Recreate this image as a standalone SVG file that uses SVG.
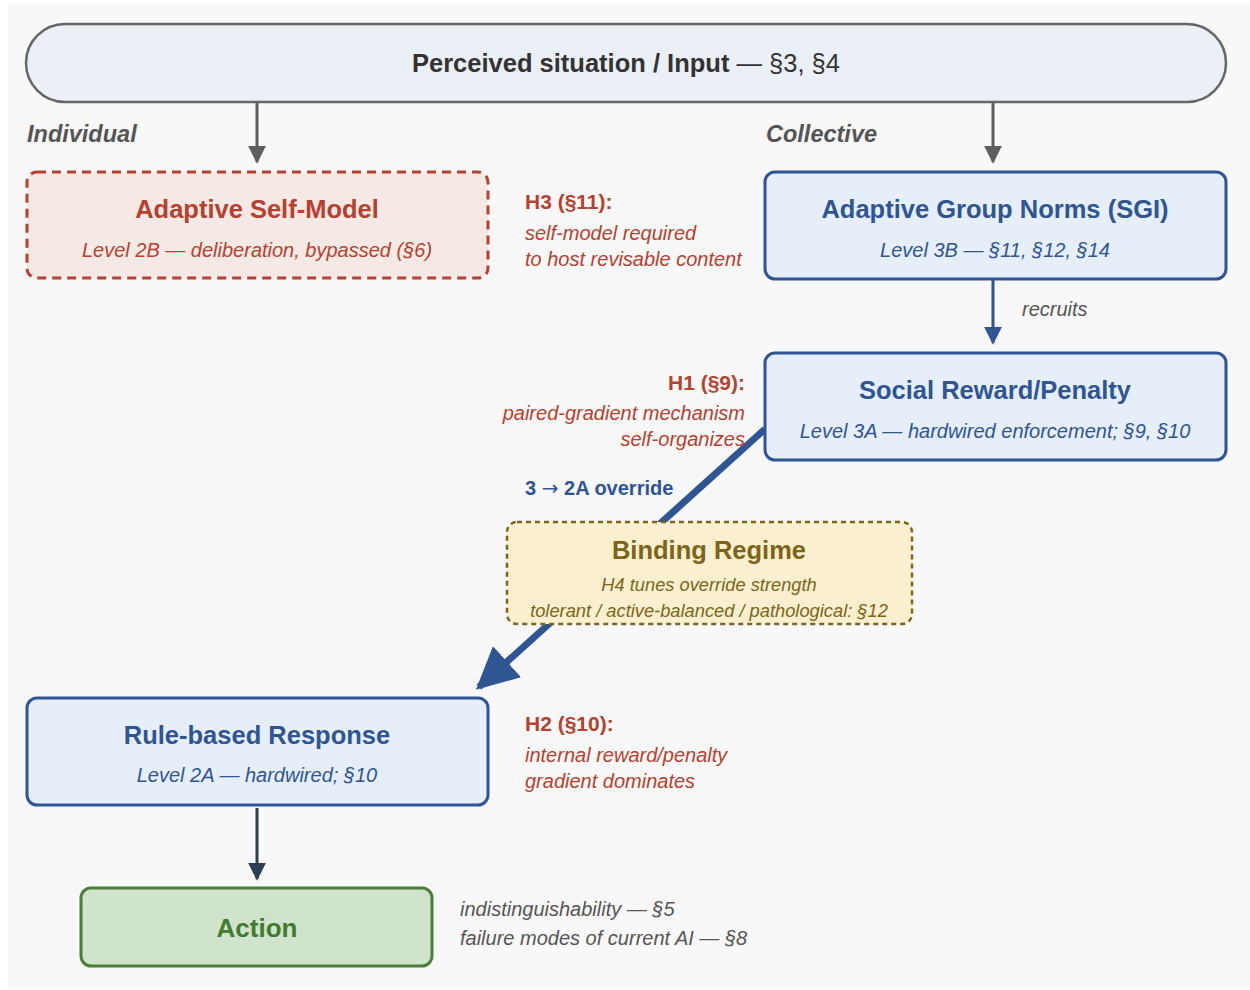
<svg xmlns="http://www.w3.org/2000/svg" width="1250" height="990" viewBox="0 0 1250 990">
  <defs>
    <style>
      text { font-family: "Liberation Sans", Arial, sans-serif; }
      .title { font-size: 25.5px; font-weight: bold; text-anchor: middle; }
      .sub { font-size: 20px; font-style: italic; text-anchor: middle; }
      .note-h { font-size: 21px; font-weight: bold; fill: #b5412f; }
      .note { font-size: 20px; font-style: italic; fill: #b5412f; }
      .gray-note { font-size: 20px; font-style: italic; fill: #555; }
      .branch { font-size: 23.5px; font-weight: bold; font-style: italic; fill: #555; }
      .blue-box { fill: #e5eef9; stroke: #2f5593; stroke-width: 3; }
      .blue-t { fill: #2f5593; }
    </style>
    <marker id="head-gray" viewBox="0 0 10 10" refX="9" refY="5" markerWidth="6" markerHeight="6" markerUnits="strokeWidth" orient="auto">
      <path d="M0,0 L10,5 L0,10 z" fill="#5f5f5f"/>
    </marker>
    <marker id="head-blue" viewBox="0 0 10 10" refX="9" refY="5" markerWidth="6" markerHeight="6" markerUnits="strokeWidth" orient="auto">
      <path d="M0,0 L10,5 L0,10 z" fill="#2f5593"/>
    </marker>
    <marker id="head-dark" viewBox="0 0 10 10" refX="9" refY="5" markerWidth="6" markerHeight="6" markerUnits="strokeWidth" orient="auto">
      <path d="M0,0 L10,5 L0,10 z" fill="#2c3e50"/>
    </marker>
  </defs>

  <!-- canvas -->
  <rect width="1250" height="990" fill="#ffffff"/>
  <rect x="8" y="4" width="1242" height="984" fill="#f8f8f8"/>

  <!-- connectors -->
  <g id="connectors">
    <line x1="257" y1="103" x2="257" y2="162" stroke="#5f5f5f" stroke-width="3" marker-end="url(#head-gray)"/>
    <line x1="993" y1="103" x2="993" y2="162" stroke="#5f5f5f" stroke-width="3" marker-end="url(#head-gray)"/>
    <line x1="993" y1="280" x2="993" y2="343" stroke="#2f5593" stroke-width="3" marker-end="url(#head-blue)"/>
    <line x1="765" y1="429" x2="479" y2="687" stroke="#2f5593" stroke-width="7" marker-end="url(#head-blue)"/>
    <line x1="257" y1="808" x2="257" y2="879" stroke="#2c3e50" stroke-width="3" marker-end="url(#head-dark)"/>
    <text x="1022" y="316" class="gray-note">recruits</text>
    <text x="525" y="495" font-size="20" font-weight="bold" fill="#2f5593">3 <tspan font-family="'Noto Sans', 'DejaVu Sans', sans-serif" font-weight="normal" font-size="20">→</tspan> 2A override</text>
  </g>

  <!-- input -->
  <g id="input">
    <rect x="26" y="24" width="1200" height="78" rx="39" fill="#eaf0f5" stroke="#666" stroke-width="2.5"/>
    <text x="626" y="72" font-size="25.5" text-anchor="middle" fill="#333"><tspan font-weight="bold">Perceived situation / Input</tspan> — §3, §4</text>
  </g>

  <text x="27" y="142" class="branch">Individual</text>
  <text x="766" y="142" class="branch">Collective</text>

  <!-- individual branch -->
  <g id="self-model">
    <rect x="27" y="172" width="461" height="106" rx="10" fill="#f5e9e5" stroke="#b5412f" stroke-width="3" stroke-dasharray="9 6"/>
    <text x="257" y="218" class="title" fill="#b5412f">Adaptive Self-Model</text>
    <text x="257" y="257" class="sub" fill="#b5412f">Level 2B — deliberation, bypassed (§6)</text>
  </g>

  <g id="note-h3">
    <text x="525" y="209" class="note-h">H3 (§11):</text>
    <text x="525" y="240" class="note">self-model required</text>
    <text x="525" y="266" class="note">to host revisable content</text>
  </g>

  <!-- collective branch -->
  <g id="group-norms">
    <rect x="765" y="172" width="461" height="107" rx="10" class="blue-box"/>
    <text x="995" y="218" class="title blue-t">Adaptive Group Norms (SGI)</text>
    <text x="995" y="257" class="sub blue-t">Level 3B — §11, §12, §14</text>
  </g>

  <g id="social-reward">
    <rect x="765" y="353" width="461" height="107" rx="10" class="blue-box"/>
    <text x="995" y="399" class="title blue-t">Social Reward/Penalty</text>
    <text x="995" y="438" class="sub blue-t">Level 3A — hardwired enforcement; §9, §10</text>
  </g>

  <g id="note-h1">
    <text x="745" y="390" class="note-h" text-anchor="end">H1 (§9):</text>
    <text x="745" y="420" class="note" text-anchor="end">paired-gradient mechanism</text>
    <text x="745" y="446" class="note" text-anchor="end">self-organizes</text>
  </g>

  <g id="binding-regime">
    <rect x="507" y="522" width="405" height="102" rx="10" fill="#faf0cf" stroke="#7d6419" stroke-width="2.5" stroke-dasharray="5 4"/>
    <text x="709" y="559" class="title" fill="#7d6419">Binding Regime</text>
    <text x="709" y="591" font-size="18.3" font-style="italic" text-anchor="middle" fill="#7d6419">H4 tunes override strength</text>
    <text x="709" y="617" font-size="18.3" font-style="italic" text-anchor="middle" fill="#7d6419">tolerant / active-balanced / pathological: §12</text>
  </g>

  <g id="rule-based">
    <rect x="27" y="698" width="461" height="107" rx="10" class="blue-box"/>
    <text x="257" y="744" class="title blue-t">Rule-based Response</text>
    <text x="257" y="782" class="sub blue-t">Level 2A — hardwired; §10</text>
  </g>

  <g id="note-h2">
    <text x="525" y="731" class="note-h">H2 (§10):</text>
    <text x="525" y="762" class="note">internal reward/penalty</text>
    <text x="525" y="788" class="note">gradient dominates</text>
  </g>

  <g id="action">
    <rect x="81" y="888" width="351" height="78" rx="10" fill="#d0e4cb" stroke="#4a7f3a" stroke-width="3"/>
    <text x="257" y="937" font-size="26" font-weight="bold" text-anchor="middle" fill="#3f7a2e">Action</text>
  </g>

  <g id="note-action">
    <text x="460" y="916" class="gray-note">indistinguishability — §5</text>
    <text x="460" y="945" class="gray-note">failure modes of current AI — §8</text>
  </g>
</svg>
